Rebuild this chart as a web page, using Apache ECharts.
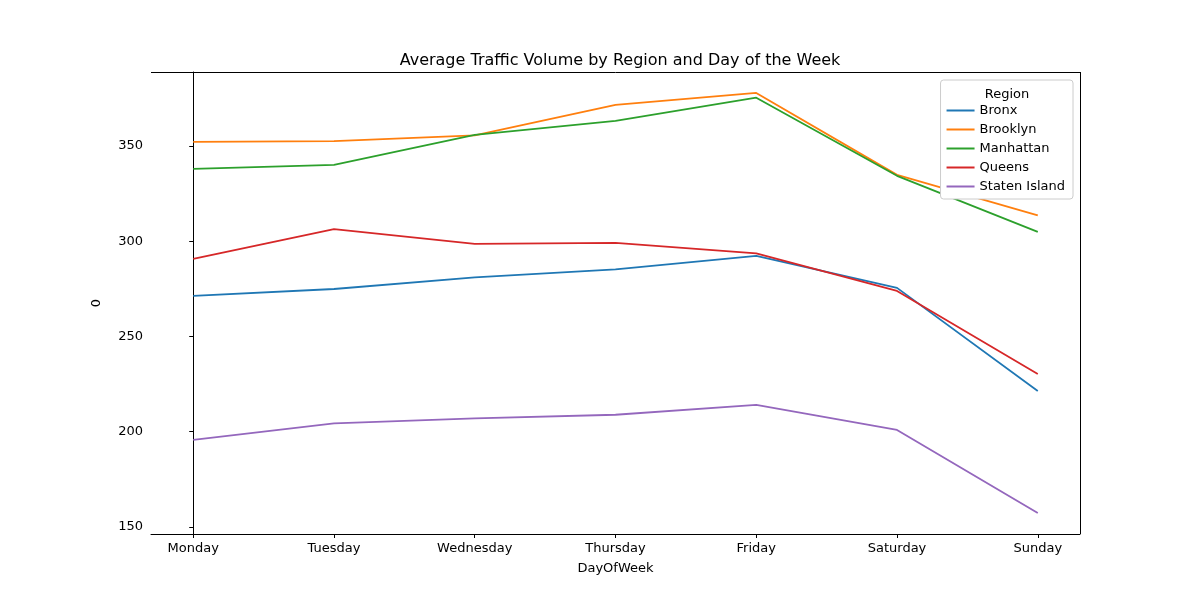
<!DOCTYPE html>
<html>
<head>
<meta charset="utf-8">
<script src="https://cdn.jsdelivr.net/npm/echarts@6/dist/echarts.min.js"></script>
<style>html,body{margin:0;background:#fff}#chart{width:1200px;height:600px}</style>
</head>
<body>
<div id="chart"></div>
<script>
const days = ["Monday", "Tuesday", "Wednesday", "Thursday", "Friday", "Saturday", "Sunday"]
const yTicks = [150, 200, 250, 300, 350]
const regions = ["Bronx", "Brooklyn", "Manhattan", "Queens", "Staten Island"]
const colors = ["#1f77b4", "#ff7f0e", "#2ca02c", "#d62728", "#9467bd"]
const bronx = [271.3, 274.9, 281.0, 285.2, 292.3, 275.5, 221.4]
const brooklyn = [352.1, 352.5, 355.5, 371.5, 377.8, 334.8, 313.6]
const manhattan = [337.9, 340.0, 355.8, 363.1, 375.3, 334.3, 304.9]
const queens = [290.7, 306.3, 298.6, 299.1, 293.6, 273.9, 230.3]
const staten = [195.7, 204.4, 207.0, 208.9, 214.1, 200.9, 157.3]
const seriesData = [bronx, brooklyn, manhattan, queens, staten]

const font = "DejaVu Sans"
const chart = echarts.init(document.getElementById("chart"))
chart.setOption({
  animation: false,
  textStyle: { fontFamily: font },
  title: [
    { text: "Average Traffic Volume by Region and Day of the Week", left: 615, top: 48, textAlign: "center",
      textStyle: { fontSize: 16, fontWeight: "normal", color: "#000", fontFamily: font } },
    { text: "Region", left: 1002, top: 83, textAlign: "center",
      textStyle: { fontSize: 13, fontWeight: "normal", color: "#000", fontFamily: font } }
  ],
  legend: {
    orient: "vertical", right: 127, top: 80, data: regions,
    padding: [24, 8, 6, 6], itemGap: 6, itemWidth: 28, itemHeight: 2,
    icon: "rect", backgroundColor: "#fff", borderColor: "#ccc", borderWidth: 1, borderRadius: 3,
    textStyle: { fontSize: 13, color: "#000", fontFamily: font }
  },
  grid: { left: 151, right: 120, top: 72, bottom: 66 },
  xAxis: {
    type: "value", min: -0.3, max: 6.3,
    name: "DayOfWeek", nameLocation: "middle", nameGap: 28,
    nameTextStyle: { fontSize: 13, color: "#000" },
    splitLine: { show: false },
    axisLine: { lineStyle: { color: "#000" } },
    axisTick: { show: true, customValues: [0, 1, 2, 3, 4, 5, 6], length: 4, inside: false, lineStyle: { color: "#000" } },
    axisLabel: { customValues: [0, 1, 2, 3, 4, 5, 6], formatter: v => days[Math.round(v)], fontSize: 13, color: "#000" }
  },
  yAxis: {
    type: "value", min: 146.3, max: 388.8,
    name: "0", nameLocation: "middle", nameGap: 48,
    nameTextStyle: { fontSize: 13, color: "#000" },
    splitLine: { show: false },
    axisLine: { show: true, lineStyle: { color: "#000" } },
    axisTick: { show: true, customValues: yTicks, length: 4, lineStyle: { color: "#000" } },
    axisLabel: { customValues: yTicks, fontSize: 13, color: "#000" }
  },
  series: regions.map((name, i) => ({
    name, type: "line", symbol: "none", color: colors[i],
    lineStyle: { width: 1.8 },
    data: seriesData[i].map((v, j) => [j, v])
  })).concat([{
    type: "line", data: [], markLine: { silent: true, symbol: "none", label: { show: false },
      lineStyle: { color: "#000", type: "solid", width: 1 },
      data: [{ xAxis: 6.3 }, { yAxis: 388.8 }] }
  }])
})
</script>
</body>
</html>
